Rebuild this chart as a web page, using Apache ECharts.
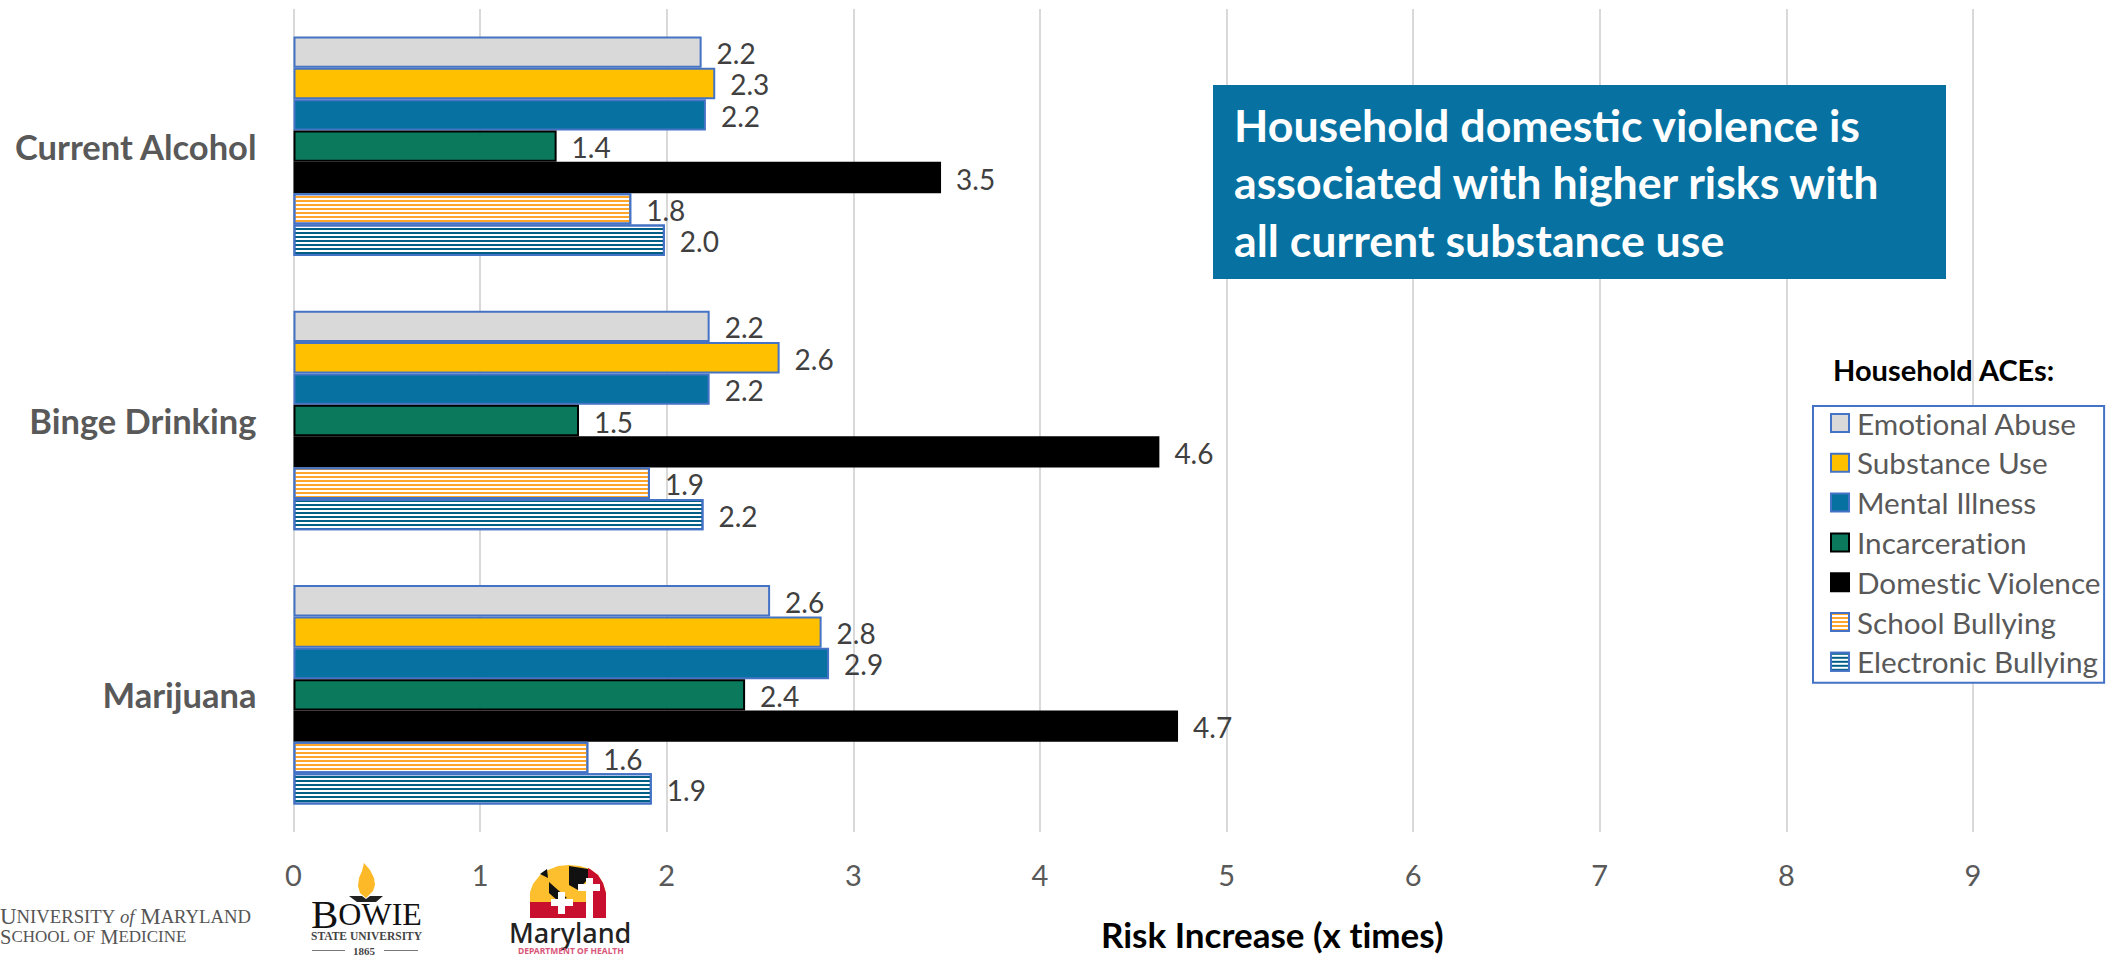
<!DOCTYPE html>
<html><head><meta charset="utf-8">
<style>html,body{margin:0;padding:0;background:#fff}#c{width:2113px;height:956px}#c text{font-variant-ligatures:none}</style>
<script src="https://cdn.jsdelivr.net/npm/echarts@6/dist/echarts.min.js"></script>
</head><body><div id="c"></div>
<script>
const categories = ['Current Alcohol','Binge Drinking','Marijuana'];
const emotionalAbuse = [2.187,2.23,2.554];
const substanceUse = [2.26,2.605,2.83];
const mentalIllness = [2.21,2.23,2.87];
const incarceration = [1.41,1.53,2.42];
const domesticViolence = [3.47,4.64,4.74];
const schoolBullying = [1.81,1.91,1.58];
const electronicBullying = [1.99,2.197,1.92];
const calloutLines = ['Household domestic violence is','associated with higher risks with','all current substance use'];
const FONT='Lato';
const BLUE='#4472C4';
function stripes(fg){return {symbol:'rect',symbolSize:1,dashArrayX:[1,0],dashArrayY:[2,2],color:fg,backgroundColor:'#fff',rotation:0};}
const defs=[
 ['Emotional Abuse',emotionalAbuse,'#D9D9D9',BLUE],
 ['Substance Use',substanceUse,'#FFC000',BLUE],
 ['Mental Illness',mentalIllness,'#0772A1',BLUE],
 ['Incarceration',incarceration,'#0B7A5C','#000'],
 ['Domestic Violence',domesticViolence,'#000','#000'],
 ['School Bullying',schoolBullying,'#FFA52C',BLUE,true],
 ['Electronic Bullying',electronicBullying,'#005F86',BLUE,true]
];
const series=defs.map(d=>({
 name:d[0],type:'bar',data:d[1],barGap:0,barCategoryGap:'20%',
 itemStyle:Object.assign({color:d[4]?'#fff':d[2],borderColor:d[3],borderWidth:2},d[4]?{decal:stripes(d[2])}:{}),
 label:{show:true,position:'right',distance:15,offset:[0,1],color:'#404040',fontFamily:FONT,fontSize:28,formatter:p=>p.value.toFixed(1)}
}));
function poly(pts,fill,z){return {type:'polygon',z:z||12,shape:{points:pts},style:{fill}};}
function box(x,y,w,h,fill){return {type:'rect',z:14,shape:{x,y,width:w,height:h},style:{fill}};}
function txt(x,y,text,font,fill){return {type:'text',z:12,x,y,style:{text,font,fill}};}
const serif='"Liberation Serif"';
const logos=[
 {type:'text',z:12,x:0,y:905,style:{text:'{b|U}{s|NIVERSITY }{i|of}{b| M}{s|ARYLAND}',rich:{
   b:{font:'23px '+serif,fill:'#555'},s:{font:'18.7px '+serif,fill:'#555'},i:{font:'italic 18.7px '+serif,fill:'#555'}}}},
 {type:'text',z:12,x:0,y:926,style:{text:'{b|S}{s|CHOOL OF }{b|M}{s|EDICINE}',rich:{
   b:{font:'20.5px '+serif,fill:'#555'},s:{font:'17px '+serif,fill:'#555'}}}},
 poly([[364,863],[370,870],[374,878],[375,885],[373,891],[366,898],[360,893],[358,886],[359,878],[362,871]],'#FDB927'),
 poly([[349,896],[362,896],[366,899],[370,896],[383,896],[376,902],[357,902]],'#222'),
 {type:'text',z:12,x:311,y:898,style:{text:'{b|B}{s|OWIE}',rich:{b:{font:'41px '+serif,fill:'#111',lineHeight:31},s:{font:'32px '+serif,fill:'#111',lineHeight:31}}}},
 txt(311,930,'STATE UNIVERSITY','bold 11.5px '+serif,'#444'),
 txt(353,945,'1865','bold 11px '+serif,'#444'),
 box(312,950,33,1,'#777'),box(384,950,34,1,'#777'),
 poly([[530,918],[530,892],[533,884],[540,875],[548,870],[558,866],[569,865],[580,866],[590,869],[598,875],[603,883],[606,893],[606,918]],'#FDBF2D'),
 poly([[588,868],[590,869],[598,875],[603,883],[606,893],[606,902],[588,902]],'#C8102E',13),
 poly([[530,902],[606,902],[606,918],[530,918]],'#C8102E',13),
 poly([[540,874],[547,869],[548,878]],'#111',13),
 poly([[549,882],[567,898],[558,901],[549,893]],'#111',13),
 poly([[569,866],[588,869],[588,879],[578,890],[569,885]],'#111',13),
 box(586,878,7,40,'#fff'),box(578,884,22,7,'#fff'),
 box(558,892,7,22,'#fff'),box(551,899,22,7,'#fff'),
 txt(509,919,'Maryland','500 27px "Noto Sans"','#222'),
 txt(518,946,'DEPARTMENT OF HEALTH','bold 8.5px "Noto Sans"','#D9577A')
];
const chart=echarts.init(document.getElementById('c'),null,{renderer:'svg'});
chart.setOption({
 animation:false,
 aria:{enabled:false},
 grid:{left:293.5,right:140,top:9,bottom:120,containLabel:false},
 xAxis:{type:'value',min:0,max:9,interval:1,
  name:'Risk Increase (x times)',nameLocation:'middle',nameGap:84,
  nameTextStyle:{fontFamily:FONT,fontWeight:'bold',fontSize:35,color:'#000',padding:[0,0,0,278]},
  axisLine:{show:false},axisTick:{show:false},
  axisLabel:{fontFamily:FONT,fontSize:29,color:'#595959',margin:28},
  splitLine:{show:true,lineStyle:{color:'#D9D9D9',width:2}}},
 yAxis:{type:'category',data:categories,inverse:true,
  axisLine:{show:false},axisTick:{show:false},
  axisLabel:{fontFamily:FONT,fontWeight:'bold',fontSize:34.5,color:'#595959',margin:37}},
 legend:{orient:'vertical',left:1813,top:406,padding:[2,2,6,17],itemGap:9.8,itemWidth:18,itemHeight:18,
  borderColor:BLUE,borderWidth:2,backgroundColor:'#fff',
  textStyle:{fontFamily:FONT,fontSize:29.7,color:'#595959',padding:[0,0,0,3]},
  data:defs.map(d=>({name:d[0],icon:'rect'}))},
 series,
 graphic:[
  {type:'rect',x:1213,y:85,z:10,shape:{width:733,height:194},style:{fill:'#0772A1'}},
  ...calloutLines.map((t,i)=>({type:'text',x:1234,y:102+i*57.5,z:11,style:{text:t,fill:'#fff',font:'bold 44.7px '+FONT}})),
  {type:'text',x:1833,y:355,z:11,style:{text:'Household ACEs:',fill:'#000',font:'bold 29px '+FONT}},
  ...logos
 ]
});
</script></body></html>
